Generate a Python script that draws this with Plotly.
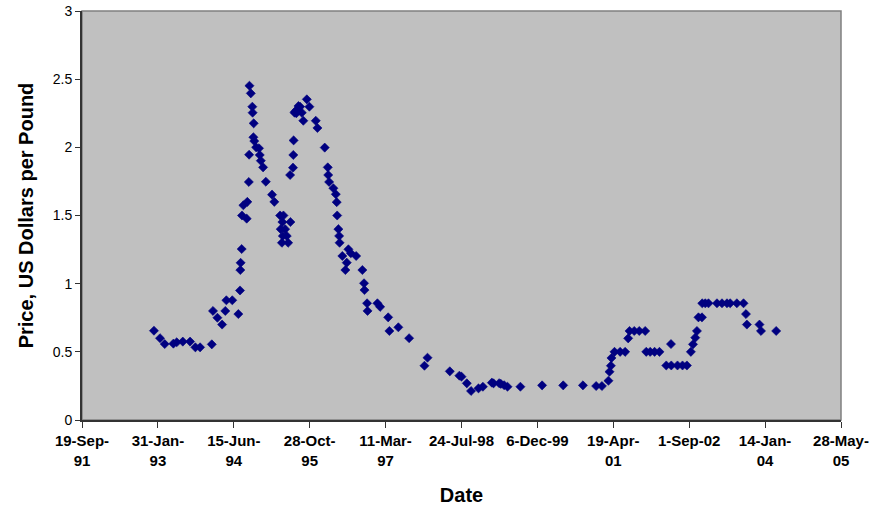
import plotly.graph_objects as go

# Observation dates and prices (US dollars per pound)
dates = [
    "1993-01-05", "1993-02-14", "1993-03-17", "1993-05-13", "1993-06-04", "1993-07-14",
    "1993-08-31", "1993-10-05", "1993-11-05", "1994-01-21", "1994-01-29", "1994-02-27",
    "1994-03-30", "1994-04-20", "1994-04-27", "1994-06-05", "1994-07-15", "1994-07-26",
    "1994-07-28", "1994-07-30", "1994-08-06", "1994-08-08", "1994-08-17", "1994-09-08",
    "1994-09-12", "1994-09-22", "1994-09-24", "1994-09-26", "1994-10-05", "1994-10-15",
    "1994-10-17", "1994-10-24", "1994-10-22", "1994-10-28", "1994-11-09", "1994-11-28",
    "1994-12-03", "1994-12-10", "1994-12-25", "1995-01-12", "1995-02-22", "1995-03-09",
    "1995-04-16", "1995-05-08", "1995-06-23", "1995-05-01", "1995-04-20", "1995-05-19",
    "1995-05-04", "1995-05-30", "1995-04-28", "1995-06-08", "1995-06-21", "1995-07-10",
    "1995-07-12", "1995-07-14", "1995-07-24", "1995-08-04", "1995-08-26", "1995-09-06",
    "1995-07-20", "1995-08-15", "1995-08-01", "1995-09-16", "1995-10-09", "1995-10-26",
    "1995-12-07", "1995-12-18", "1996-02-04", "1996-02-24", "1996-02-27", "1996-03-04",
    "1996-04-01", "1996-04-17", "1996-04-23", "1996-04-26", "1996-05-04", "1996-05-09",
    "1996-05-12", "1996-05-30", "1996-07-09", "1996-07-25", "1996-08-29", "1996-06-28",
    "1996-06-19", "1996-10-09", "1996-10-20", "1996-10-23", "1996-11-09", "1996-11-12",
    "1997-01-16", "1997-02-03", "1997-03-28", "1997-04-05", "1997-06-03", "1997-08-13",
    "1997-11-22", "1997-12-12", "1998-05-08", "1998-07-10", "1998-07-24", "1998-08-28",
    "1998-09-25", "1998-11-13", "1998-12-12", "1999-02-09", "1999-02-20", "1999-03-29",
    "1999-04-09", "1999-05-01", "1999-05-23", "1999-08-16", "2000-01-06", "2000-05-24",
    "2000-10-01", "2000-12-27", "2001-02-03", "2001-03-18", "2001-03-25", "2001-04-03",
    "2001-04-07", "2001-04-27", "2001-06-03", "2001-07-06", "2001-07-26", "2001-08-04",
    "2001-09-04", "2001-10-07", "2001-11-15", "2001-11-22", "2001-12-18", "2002-01-16",
    "2002-02-17", "2002-05-04", "2002-04-03", "2002-05-06", "2002-06-16", "2002-07-19",
    "2002-08-17", "2002-09-12", "2002-09-26", "2002-10-11", "2002-10-22", "2002-11-01",
    "2002-11-24", "2002-11-26", "2002-12-16", "2003-01-06", "2003-03-03", "2003-04-05",
    "2003-05-08", "2003-05-29", "2003-07-12", "2003-08-25", "2003-09-10", "2003-09-16",
    "2003-12-08", "2003-12-18", "2004-03-27",
]
prices = [
    0.655, 0.60, 0.557, 0.56, 0.57, 0.575,
    0.575, 0.533, 0.533, 0.555, 0.80, 0.75,
    0.70, 0.80, 0.878, 0.878, 0.777, 0.95,
    1.10, 1.153, 1.254, 1.50, 1.575, 1.477,
    1.60, 1.746, 1.946, 2.452, 2.396, 2.298,
    2.254, 2.176, 2.074, 2.046, 2.00, 1.993,
    1.944, 1.902, 1.853, 1.748, 1.653, 1.60,
    1.50, 1.50, 1.452, 1.452, 1.40, 1.40,
    1.35, 1.35, 1.30, 1.30, 1.797, 1.851,
    1.944, 2.051, 2.262, 2.274, 2.298, 2.254,
    2.254, 2.303, 2.25, 2.195, 2.352, 2.298,
    2.195, 2.142, 1.998, 1.853, 1.797, 1.746,
    1.70, 1.656, 1.598, 1.50, 1.40, 1.35,
    1.30, 1.203, 1.252, 1.223, 1.203, 1.154,
    1.10, 1.10, 1.003, 0.953, 0.856, 0.80,
    0.856, 0.83, 0.753, 0.653, 0.68, 0.60,
    0.398, 0.457, 0.357, 0.325, 0.318, 0.269,
    0.213, 0.232, 0.244, 0.274, 0.269, 0.27,
    0.265, 0.255, 0.244, 0.244, 0.254, 0.254,
    0.254, 0.249, 0.249, 0.288, 0.354, 0.398,
    0.455, 0.50, 0.50, 0.50, 0.599, 0.653,
    0.653, 0.653, 0.653, 0.50, 0.50, 0.50,
    0.50, 0.557, 0.40, 0.40, 0.40, 0.40,
    0.40, 0.50, 0.555, 0.604, 0.653, 0.753,
    0.753, 0.856, 0.856, 0.856, 0.856, 0.856,
    0.856, 0.856, 0.856, 0.856, 0.777, 0.70,
    0.70, 0.653, 0.653,
]

# Date axis: ticks every 500 days
tick_dates = [
    "1991-09-19", "1993-01-31", "1994-06-15", "1995-10-28", "1997-03-11", "1998-07-24",
    "1999-12-06", "2001-04-19", "2002-09-01", "2004-01-14", "2005-05-28",
]
tick_labels = [
    "19-Sep-<br>91", "31-Jan-<br>93", "15-Jun-<br>94", "28-Oct-<br>95", "11-Mar-<br>97",
    "24-Jul-98", "6-Dec-99", "19-Apr-<br>01", "1-Sep-02", "14-Jan-<br>04", "28-May-<br>05",
]
y_ticks = [0, 0.5, 1, 1.5, 2, 2.5, 3]
y_labels = ["0", "0.5", "1", "1.5", "2", "2.5", "3"]

FONT = "Liberation Sans, Arial, sans-serif"

fig = go.Figure()
fig.add_trace(go.Scatter(
    x=dates, y=prices, mode="markers",
    marker=dict(symbol="diamond", size=7, color="#000080",
                line=dict(width=0.6, color="#000080")),
    showlegend=False, cliponaxis=False,
))

# grey frame on the top and right sides of the plotting area
fig.add_shape(type="rect", xref="paper", yref="paper", x0=0, y0=0, x1=1, y1=1,
              line=dict(color="#808080", width=1.5), fillcolor="rgba(0,0,0,0)",
              layer="below")

fig.update_layout(
    width=875, height=512,
    margin=dict(l=82, r=34, t=11, b=92),
    paper_bgcolor="white",
    plot_bgcolor="#C0C0C0",
    font=dict(family=FONT, color="black"),
    xaxis=dict(
        type="date", automargin=False,
        range=[tick_dates[0], tick_dates[-1]],
        tickmode="array", tickvals=tick_dates, ticktext=tick_labels,
        tickangle=0,
        tickfont=dict(family=FONT, size=15, color="black", weight="bold"),
        ticks="outside", ticklen=6, tickcolor="#333333", tickwidth=1,
        showline=True, linecolor="#333333", linewidth=2,
        showgrid=False, zeroline=False,
        title=dict(text="Date", font=dict(family=FONT, size=20, weight="bold"),
                   standoff=20),
    ),
    yaxis=dict(
        range=[0, 3], automargin=False,
        tickmode="array", tickvals=y_ticks, ticktext=y_labels,
        tickfont=dict(family=FONT, size=14, color="black"),
        ticks="outside", ticklen=5, tickcolor="#333333", tickwidth=1,
        showline=True, linecolor="#333333", linewidth=2,
        showgrid=False, zeroline=False,
        title=dict(text="Price, US Dollars per Pound",
                   font=dict(family=FONT, size=20, weight="bold"), standoff=14),
    ),
)

fig.write_html("out.html")
